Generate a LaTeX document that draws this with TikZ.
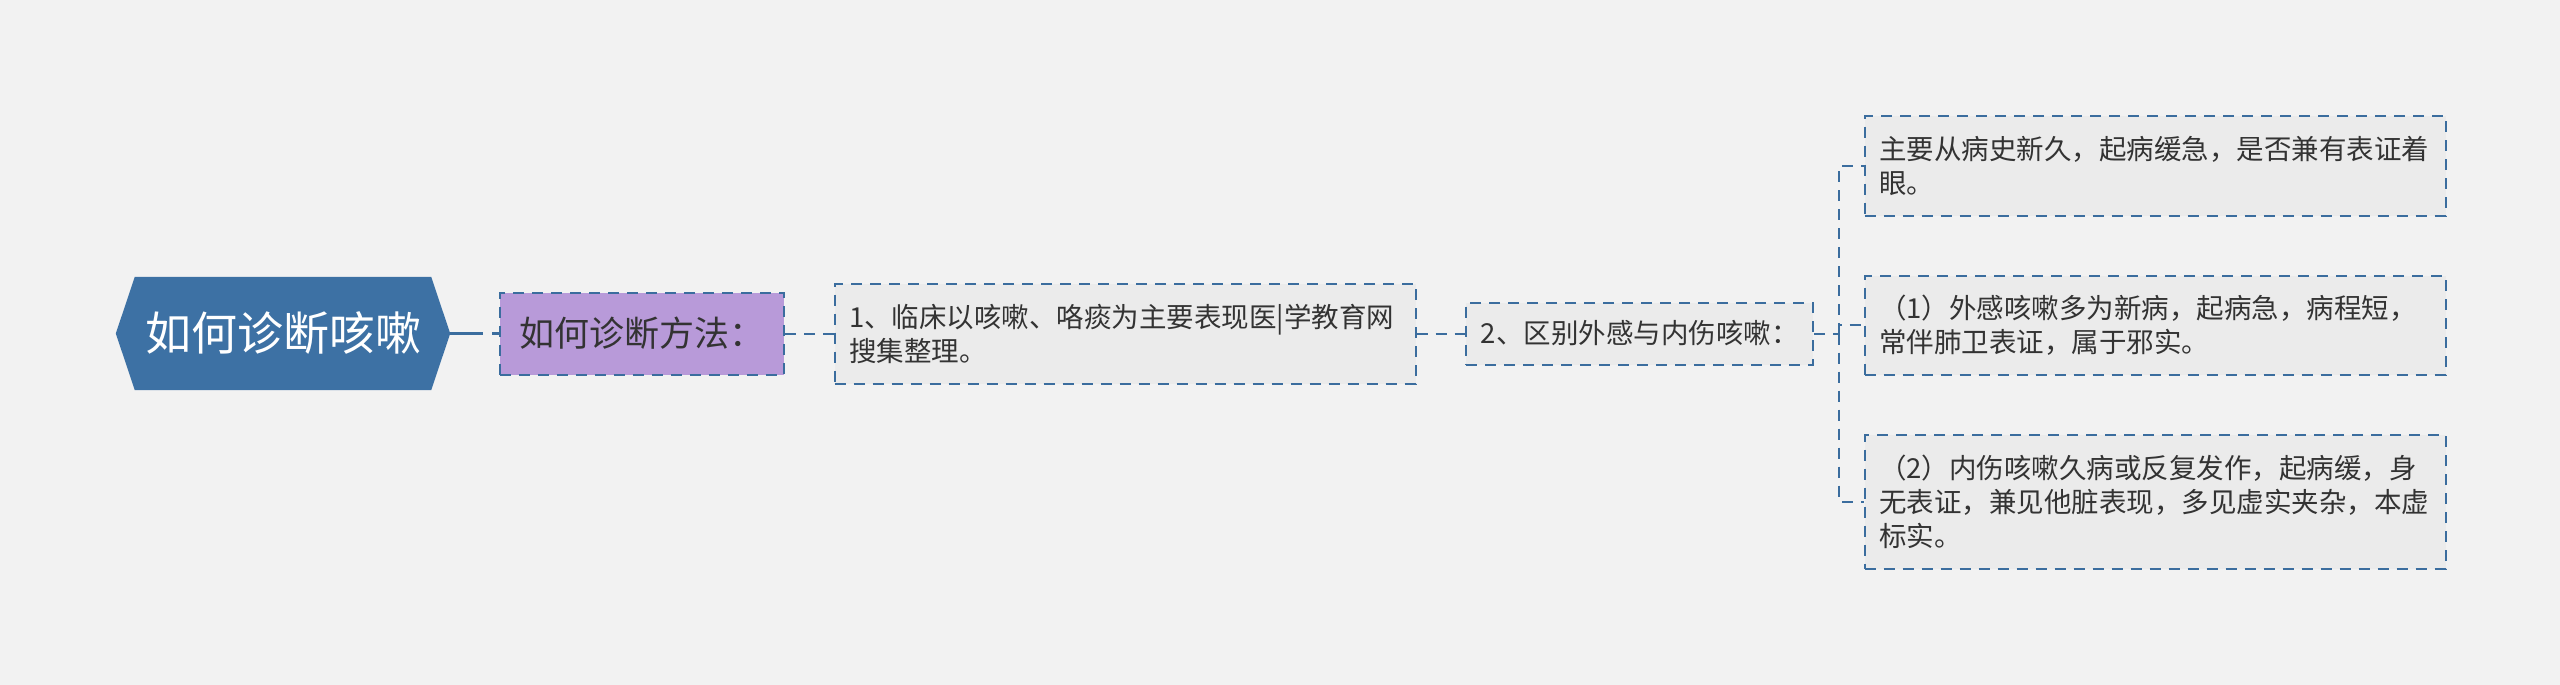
\documentclass[tikz,border=0pt]{standalone}
\usepackage{fontspec}
\setmainfont{Noto Sans CJK SC}
\usetikzlibrary{chains,positioning,backgrounds}

\definecolor{bgfill}{HTML}{F2F2F2}
\definecolor{rootblue}{HTML}{3D71A4}
\definecolor{lineblue}{HTML}{3B6D9E}
\definecolor{boxgray}{HTML}{EBEBEB}
\definecolor{methodpurple}{HTML}{B89AD9}
\definecolor{textgray}{HTML}{333333}

\tikzset{
  rootnode/.style={text=white, minimum width=334pt, minimum height=113pt,
    inner sep=0pt, font=\fontsize{46}{46}\selectfont},
  topicbox/.style={draw=lineblue, line width=2pt, dash pattern=on 11pt off 8pt,
    fill=boxgray, text=textgray, inner xsep=14.5pt, inner ysep=0pt,
    align=left, font=\fontsize{27.5}{34}\selectfont},
  methodbox/.style={topicbox, fill=methodpurple, minimum width=284.5pt,
    minimum height=82pt, font=\fontsize{35}{35}\selectfont},
  leafbox/.style={topicbox, text width=552pt},
  maplink/.style={draw=lineblue, line width=2pt, dash pattern=on 11pt off 8pt},
  rootlink/.style={draw=lineblue, line width=2.5pt, dash pattern=on 33pt off 9pt}
}

\begin{document}
\begin{tikzpicture}[x=1pt,y=1pt]

\useasboundingbox (0,0) rectangle (2560,-685);

\begin{scope}[xshift=283pt,yshift=-333.5pt,start chain=going right,node distance=48.5pt]
\node [rootnode,on chain] (root) {如何诊断咳嗽};
\node [methodbox,on chain] (l1) {如何诊断方法：};
\node [leafbox,minimum height=100pt,on chain] (l2)
  {1、临床以咳嗽、咯痰为主要表现医|学教育网\\搜集整理。};
\node [topicbox,minimum width=347pt,minimum height=62pt,on chain] (l3)
  {2、区别外感与内伤咳嗽：};
\end{scope}

\node [leafbox,minimum height=99pt,right=49.5pt of l3,yshift=8.5pt] (b)
  {（1）外感咳嗽多为新病，起病急，病程短，\\常伴肺卫表证，属于邪实。};
\node [leafbox,minimum height=100pt,above=58pt of b] (a)
  {主要从病史新久，起病缓急，是否兼有表证着\\眼。};
\node [leafbox,minimum height=134pt,below=58pt of b] (c)
  {（2）内伤咳嗽久病或反复发作，起病缓，身\\无表证，兼见他脏表现，多见虚实夹杂，本虚\\标实。};

% page and hexagon behind the root text
\begin{pgfonlayer}{background}
\fill[bgfill] (0,0) rectangle (2560,-685);
\fill[rootblue] (root.west) -- ([xshift=19pt]root.north west)
  -- ([xshift=-19pt]root.north east) -- (root.east)
  -- ([xshift=-19pt]root.south east) -- ([xshift=19pt]root.south west) -- cycle;
\end{pgfonlayer}

\draw[rootlink] (root.east) -- (l1.west);
\draw[maplink] (l1.east) -- (l2.west);
\draw[maplink] (l2.east) -- (l3.west);

\coordinate (fork) at ([xshift=25pt]l3.east);
\draw[maplink] (l3.east) -- (fork);
\draw[maplink] (fork) |- (a.west);
\draw[maplink] (fork) |- (b.west);
\draw[maplink] (fork) |- (c.west);

\end{tikzpicture}
\end{document}
